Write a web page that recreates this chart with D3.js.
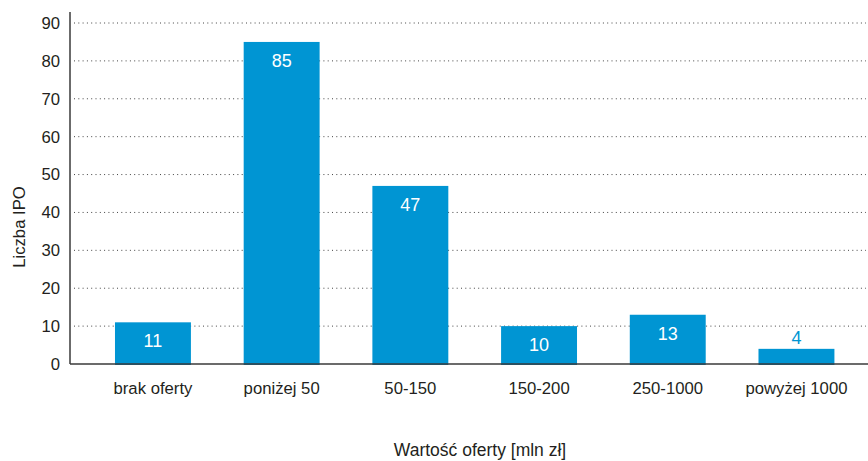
<!DOCTYPE html>
<html>
<head>
<meta charset="utf-8">
<script src="https://cdn.jsdelivr.net/npm/d3@7"></script>
<style>
  html, body { margin: 0; padding: 0; background: #fff; }
  svg { display: block; font-family: "Liberation Sans", Arial, Helvetica, sans-serif; }
</style>
</head>
<body>
<svg id="chart" width="868" height="461"></svg>
<script>
// IPO count by offer value
const categories = ["brak oferty", "poniżej 50", "50-150", "150-200", "250-1000", "powyżej 1000"];
const counts = [11, 85, 47, 10, 13, 4];
const yTicks = [0, 10, 20, 30, 40, 50, 60, 70, 80, 90];
const xTitle = "Wartość oferty [mln zł]";
const yTitle = "Liczba IPO";

const svg = d3.select("#chart");
const barColor = "#0095d3";
const textColor = "#231f20";
const fontSize = 16.7;

const y = d3.scaleLinear().domain([0, 90]).range([364, 23]);
const x = d3.scaleBand().domain(categories).range([88.6, 860.8])
  .paddingInner(0.41).paddingOuter(0.205);

// dotted horizontal gridlines
svg.append("g").selectAll("line")
  .data(yTicks.filter(t => t > 0))
  .join("line")
  .attr("x1", 74).attr("x2", 866)
  .attr("y1", d => y(d)).attr("y2", d => y(d))
  .attr("stroke", "#444")
  .attr("stroke-width", 1)
  .attr("stroke-dasharray", "1,3.3");

// bars
svg.append("g").selectAll("rect")
  .data(counts)
  .join("rect")
  .attr("x", (d, i) => x(categories[i]))
  .attr("width", x.bandwidth())
  .attr("y", d => y(d))
  .attr("height", d => y(0) - y(d) + 1)
  .attr("fill", barColor);

// value labels: inside the bar when tall enough, above it otherwise
const inside = d => (y(0) - y(d)) > 30;
svg.append("g").selectAll("text")
  .data(counts)
  .join("text")
  .attr("x", (d, i) => x(categories[i]) + x.bandwidth() / 2)
  .attr("y", d => inside(d) ? y(d) + 25 : y(d) - 5)
  .attr("text-anchor", "middle")
  .attr("font-size", 18)
  .attr("fill", d => inside(d) ? "#fff" : barColor)
  .text(d => d);

// y axis
const yAxis = svg.append("g")
  .attr("transform", "translate(70,0)")
  .call(d3.axisLeft(y).tickValues(yTicks).tickSize(0).tickPadding(10));
yAxis.select(".domain").remove();
yAxis.selectAll("text")
  .attr("font-size", fontSize)
  .attr("fill", textColor)
  .attr("font-family", "Liberation Sans, Arial, sans-serif");
svg.append("line")
  .attr("x1", 70).attr("x2", 70)
  .attr("y1", 12).attr("y2", y(0))
  .attr("stroke", "#3a3a3a").attr("stroke-width", 1.5);

// x axis
const xAxis = svg.append("g")
  .attr("transform", `translate(0,${y(0)})`)
  .call(d3.axisBottom(x).tickSize(0).tickPadding(18));
xAxis.select(".domain").remove();
xAxis.selectAll("text")
  .attr("font-size", fontSize)
  .attr("fill", textColor)
  .attr("font-family", "Liberation Sans, Arial, sans-serif");
svg.append("line")
  .attr("x1", 70).attr("x2", 868)
  .attr("y1", y(0)).attr("y2", y(0))
  .attr("stroke", "#3a3a3a").attr("stroke-width", 1.5);

// axis titles
svg.append("text")
  .attr("x", 480).attr("y", 456)
  .attr("text-anchor", "middle")
  .attr("font-size", 17.5)
  .attr("fill", textColor)
  .text(xTitle);

svg.append("text")
  .attr("transform", "translate(25,227) rotate(-90)")
  .attr("text-anchor", "middle")
  .attr("font-size", fontSize)
  .attr("fill", textColor)
  .text(yTitle);
</script>
</body>
</html>
